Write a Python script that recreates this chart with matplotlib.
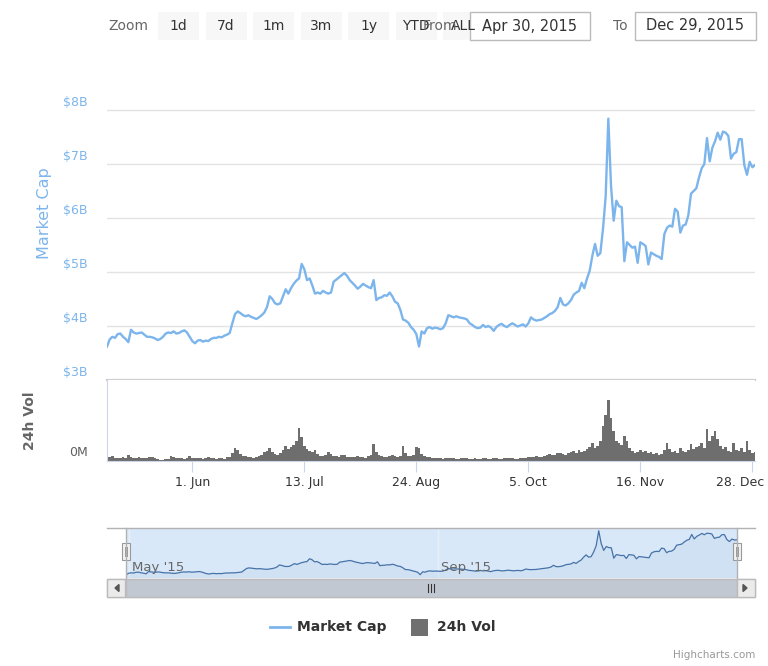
import numpy as np
import matplotlib
matplotlib.use('Agg')
import matplotlib.pyplot as plt
import matplotlib.transforms as mtransforms
from matplotlib.patches import Rectangle, Polygon

# daily data, 30 Apr 2015 .. 29 Dec 2015
dates = np.arange('2015-04-30', '2015-12-30', dtype='datetime64[D]')

# market cap in $B
mcap = [
    3.62, 3.75, 3.80, 3.78, 3.85, 3.86, 3.80, 3.76, 3.70, 3.93,
    3.88, 3.86, 3.87, 3.88, 3.84, 3.80, 3.80, 3.79, 3.77, 3.74,
    3.76, 3.80, 3.86, 3.88, 3.87, 3.90, 3.86, 3.87, 3.90, 3.92,
    3.88, 3.80, 3.72, 3.68, 3.73, 3.74, 3.71, 3.73, 3.72, 3.76,
    3.78, 3.78, 3.80, 3.79, 3.82, 3.84, 3.87, 4.05, 4.22, 4.27,
    4.24, 4.20, 4.18, 4.20, 4.17, 4.15, 4.13, 4.16, 4.20, 4.25,
    4.35, 4.55, 4.50, 4.42, 4.40, 4.42, 4.55, 4.68, 4.60, 4.70,
    4.78, 4.84, 4.88, 5.15, 5.05, 4.85, 4.88, 4.75, 4.60, 4.62,
    4.60, 4.65, 4.62, 4.60, 4.62, 4.82, 4.86, 4.90, 4.94, 4.98,
    4.93, 4.85, 4.80, 4.75, 4.69, 4.73, 4.78, 4.75, 4.72, 4.70,
    4.85, 4.48, 4.52, 4.53, 4.57, 4.56, 4.62, 4.55, 4.45, 4.42,
    4.30, 4.12, 4.10, 4.06, 3.98, 3.93, 3.85, 3.62, 3.90, 3.86,
    3.96, 3.98, 3.95, 3.97, 3.96, 3.94, 3.96, 4.05, 4.20, 4.18,
    4.16, 4.18, 4.16, 4.15, 4.14, 4.12, 4.05, 4.02, 3.98, 3.96,
    3.97, 4.02, 3.98, 4.00, 3.97, 3.91, 3.98, 4.02, 4.04, 4.00,
    3.98, 4.02, 4.05, 4.02, 3.99, 4.01, 4.03, 3.99, 4.05, 4.16,
    4.12, 4.10, 4.11, 4.12, 4.15, 4.18, 4.22, 4.24, 4.28, 4.35,
    4.52, 4.40, 4.38, 4.42, 4.48, 4.58, 4.62, 4.65, 4.80, 4.70,
    4.88, 5.02, 5.30, 5.52, 5.30, 5.35, 5.80, 6.40, 7.84, 6.60,
    5.95, 6.32, 6.22, 6.20, 5.20, 5.55, 5.50, 5.45, 5.47, 5.17,
    5.55, 5.52, 5.48, 5.14, 5.36, 5.33, 5.30, 5.28, 5.24, 5.70,
    5.82, 5.86, 5.84, 6.17, 6.12, 5.73, 5.86, 5.88, 6.05, 6.45,
    6.50, 6.55, 6.75, 6.92, 7.00, 7.48, 7.05, 7.30, 7.42, 7.58,
    7.45, 7.60, 7.58, 7.52, 7.10, 7.19, 7.22, 7.46, 7.46, 6.98,
    6.80, 7.04, 6.94, 6.98,
]

# 24h volume in $M
vol = [
    45, 35, 50, 25, 30, 28, 40, 30, 55, 35,
    30, 32, 38, 28, 25, 30, 35, 40, 30, 15,
    10, 12, 15, 20, 45, 35, 28, 30, 25, 22,
    28, 45, 30, 25, 28, 30, 22, 25, 40, 30,
    25, 22, 30, 25, 20, 35, 40, 80, 130, 110,
    70, 50, 45, 40, 35, 30, 38, 45, 60, 90,
    100, 130, 90, 70, 60, 80, 110, 150, 120, 140,
    160, 200, 330, 240, 150, 120, 100, 90, 110, 70,
    50, 45, 60, 90, 70, 50, 45, 40, 60, 55,
    40, 35, 40, 38, 45, 40, 35, 30, 45, 60,
    170, 90, 60, 45, 40, 38, 50, 60, 45, 40,
    50, 150, 80, 50, 45, 60, 140, 130, 70, 50,
    40, 35, 30, 28, 25, 25, 22, 25, 30, 28,
    25, 22, 20, 25, 28, 25, 22, 20, 25, 22,
    20, 28, 25, 22, 20, 30, 25, 22, 20, 25,
    30, 28, 25, 22, 20, 30, 25, 28, 35, 40,
    35, 45, 40, 38, 50, 55, 70, 60, 55, 75,
    80, 65, 60, 75, 85, 95, 80, 110, 90, 100,
    120, 140, 180, 130, 150, 200, 350, 450, 600, 420,
    300, 200, 180, 160, 250, 200, 130, 100, 80, 90,
    110, 90, 100, 80, 90, 70, 75, 60, 70, 110,
    180, 120, 90, 100, 80, 130, 100, 90, 110, 170,
    120, 140, 150, 180, 130, 320, 200, 250, 300, 220,
    150, 120, 140, 100, 90, 180, 110, 100, 130, 90,
    200, 110, 80, 90,
]

cap_ticks = [3, 4, 5, 6, 7, 8]
cap_labels = ['$3B', '$4B', '$5B', '$6B', '$7B', '$8B']
x_ticks = np.array(['2015-06-01', '2015-07-13', '2015-08-24', '2015-10-05',
                    '2015-11-16', '2015-12-28'], dtype='datetime64[D]')
x_labels = ['1. Jun', '13. Jul', '24. Aug', '5. Oct', '16. Nov', '28. Dec']
nav_ticks = np.array(['2015-05-01', '2015-09-01'], dtype='datetime64[D]')
nav_labels = ["May '15", "Sep '15"]
buttons = ['1d', '7d', '1m', '3m', '1y', 'YTD', 'ALL']

BLUE = '#7cb5ec'
W, H = 768, 666
fig = plt.figure(figsize=(W / 100, H / 100), dpi=100)


def px_axes(x0, y0, x1, y1, **kw):
    return fig.add_axes([x0 / W, 1 - y1 / H, (x1 - x0) / W, (y1 - y0) / H], **kw)


# ---- market cap pane
ax = px_axes(107, 100, 755, 380)
ax.plot(dates, mcap, color=BLUE, lw=1.7, solid_joinstyle='round', zorder=3)
ax.set_xlim(dates[0], dates[-1])
ax.set_ylim(3, 3 + 280 / 54)
ax.set_yticks(cap_ticks)
ax.grid(axis='y', color='#e3e3e3', lw=1)
ax.axhline(3, color='#cfcfcf', lw=1.6, clip_on=False)
ax.tick_params(length=0, labelleft=False, labelbottom=False)
for s in ax.spines.values():
    s.set_visible(False)
lab_tr = mtransforms.offset_copy(
    mtransforms.blended_transform_factory(ax.transAxes, ax.transData),
    fig=fig, x=0, y=8, units='dots')
for v, t in zip(cap_ticks, cap_labels):
    ax.text(-19 / 648, v, t, transform=lab_tr, ha='right', va='center',
            color=BLUE, fontsize=9)

# ---- volume pane
ax2 = px_axes(107, 380, 755, 461)
ax2.bar(dates, vol, width=1.0, color='#6e6e6e', linewidth=0)
ax2.set_xlim(dates[0], dates[-1])
ax2.set_ylim(0, 800)
ax2.set_yticks([])
ax2.set_xticks(x_ticks)
ax2.set_xticklabels(x_labels)
ax2.tick_params(axis='x', direction='out', length=8, color='#ccd6eb',
                labelcolor='#333333', labelsize=9, pad=3)
# keep the last label inside the plot, as Highcharts does
last = ax2.get_xticklabels()[-1]
last.set_transform(last.get_transform() + mtransforms.Affine2D().translate(-12, 0))
for k in ['top', 'right']:
    ax2.spines[k].set_visible(False)
ax2.spines['left'].set_color('#ccd6eb')
ax2.spines['bottom'].set_color('#ccd6eb')
vol_tr = mtransforms.offset_copy(
    mtransforms.blended_transform_factory(ax2.transAxes, ax2.transData),
    fig=fig, x=0, y=8, units='dots')
ax2.text(-19 / 648, 0, '0M', transform=vol_tr, ha='right', va='center',
         color='#606060', fontsize=9)

# ---- navigator
ax3 = px_axes(126, 528, 737, 578)
ax3.set_facecolor('#d9e8f9')
ax3.plot(dates, mcap, color='#4572a7', lw=0.9)
ax3.fill_between(dates, mcap, 3.3, color='#4572a7', alpha=0.05, lw=0)
ax3.set_xlim(dates[0], dates[-1])
ax3.set_ylim(3.3, 8.1)
ax3.set_xticks([])
ax3.set_yticks([])
for s in ax3.spines.values():
    s.set_visible(False)
for d, t in zip(nav_ticks, nav_labels):
    ax3.axvline(d, color='#e8eef6', lw=1, zorder=0)
    ax3.text(d, 0.2, t, transform=mtransforms.offset_copy(
        mtransforms.blended_transform_factory(ax3.transData, ax3.transAxes),
        fig=fig, x=3, y=0, units='dots'),
        ha='left', va='center', color='#666666', fontsize=9.5)

# ---- overlay (range selector, scrollbar, legend, credits)
ov = fig.add_axes([0, 0, 1, 1], zorder=5)
ov.set_xlim(0, W)
ov.set_ylim(H, 0)
ov.axis('off')
ov.patch.set_alpha(0)

ov.text(108, 26, 'Zoom', color='#666666', fontsize=10, va='center')
for i, b in enumerate(buttons):
    bx = 158 + i * 47.5
    ov.add_patch(Rectangle((bx, 12), 41, 28, facecolor='#f7f7f7', edgecolor='none'))
    ov.text(bx + 20.5, 26, b, color='#333333', fontsize=10, ha='center', va='center')
ov.text(423, 26, 'From', color='#666666', fontsize=10, va='center')
for (x0, x1), t in zip([(470, 590), (635, 756)], ['Apr 30, 2015', 'Dec 29, 2015']):
    ov.add_patch(Rectangle((x0, 12), x1 - x0, 28, facecolor='white', edgecolor='#bbbbbb', lw=1))
    ov.text((x0 + x1) / 2, 26, t, color='#333333', fontsize=10.5, ha='center', va='center')
ov.text(613, 26, 'To', color='#666666', fontsize=10, va='center')

# navigator outline and handles
ov.plot([107, 755], [528, 528], color='#b2b1b6', lw=1)
for hx in (126, 737):
    ov.plot([hx, hx], [528, 578], color='#b2b1b6', lw=1)
    ov.add_patch(Rectangle((hx - 4, 543), 8, 17, facecolor='#f2f2f2', edgecolor='#999999', lw=0.8))
    ov.plot([hx - 1.2, hx - 1.2], [547, 556], color='#999999', lw=0.7)
    ov.plot([hx + 1.2, hx + 1.2], [547, 556], color='#999999', lw=0.7)

# scrollbar
ov.add_patch(Rectangle((107, 579), 648, 18, facecolor='#eeeeee', edgecolor='#cccccc', lw=1))
ov.add_patch(Rectangle((126, 579), 611, 18, facecolor='#c2c8d2', edgecolor='#bbbbbb', lw=1))
for bx in (107, 737):
    ov.add_patch(Rectangle((bx, 579), 18, 18, facecolor='#ebebeb', edgecolor='#bbbbbb', lw=1))
ov.add_patch(Polygon([[119, 584.5], [119, 591.5], [115, 588]], closed=True, color='#555555'))
ov.add_patch(Polygon([[743, 584.5], [743, 591.5], [747, 588]], closed=True, color='#555555'))
for dx in (-3, 0, 3):
    ov.plot([431 + dx, 431 + dx], [584, 592], color='#333333', lw=0.8)

# legend
ov.plot([270, 290], [627, 627], color=BLUE, lw=2)
ov.text(297, 627, 'Market Cap', color='#333333', fontsize=10, fontweight='bold', va='center')
ov.add_patch(Rectangle((411, 619), 17, 17, facecolor='#707070', edgecolor='none'))
ov.text(437, 627, '24h Vol', color='#333333', fontsize=10, fontweight='bold', va='center')
ov.text(755, 655, 'Highcharts.com', color='#999999', fontsize=7.5, ha='right', va='center')

# axis titles
ov.text(44, 213, 'Market Cap', color=BLUE, fontsize=11.5, rotation=90, ha='center', va='center')
ov.text(30, 421, '24h Vol', color='#666666', fontsize=10, fontweight='bold',
        rotation=90, ha='center', va='center')

fig.savefig('out.png', dpi=100)
